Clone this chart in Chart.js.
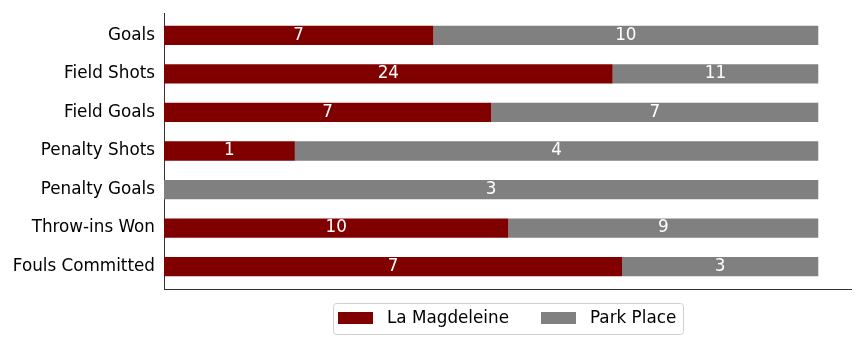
<!DOCTYPE html>
<html><head><meta charset="utf-8">
<script src="https://cdn.jsdelivr.net/npm/chart.js@4/dist/chart.umd.min.js"></script>
<style>html,body{margin:0;padding:0;background:#fff}#wrap{width:864px;height:346px}</style>
</head><body><div id="wrap"><canvas id="c" width="864" height="346"></canvas></div>
<script>
const categories = ["Goals","Field Shots","Field Goals","Penalty Shots","Penalty Goals","Throw-ins Won","Fouls Committed"];
const seriesNames = ["La Magdeleine","Park Place"];
const laMagdeleine = [7,24,7,1,0,10,7];
const parkPlace = [10,11,7,4,3,9,3];
const colors = ["#800000","#808080"];

const totals = categories.map((_, i) => laMagdeleine[i] + parkPlace[i]);
const pct = arr => arr.map((v, i) => ({ y: i, x: v / totals[i] * 100, raw: v }));

const FONT = "'DejaVu Sans', sans-serif";
const FS = 16.8;

const labelPlugin = {
  id: 'labels',
  afterDatasetsDraw(chart) {
    const ctx = chart.ctx;
    ctx.save();
    ctx.font = FS + "px " + FONT;
    ctx.fillStyle = "#ffffff";
    ctx.textAlign = "center";
    ctx.textBaseline = "middle";
    chart.data.datasets.forEach((ds, di) => {
      const meta = chart.getDatasetMeta(di);
      meta.data.forEach((bar, i) => {
        const raw = ds.data[i].raw;
        if (!raw) return;
        const cx = (bar.x + bar.base) / 2;
        ctx.fillText(String(raw), cx, bar.y);
      });
    });
    ctx.restore();
  }
};

const legendPlugin = {
  id: 'customLegend',
  afterDraw(chart) {
    const ctx = chart.ctx;
    ctx.save();
    const x0 = 333.5, y0 = 303.5, w = 350, h = 31, r = 3;
    ctx.strokeStyle = "#d0d0d0";
    ctx.lineWidth = 1;
    ctx.beginPath();
    ctx.moveTo(x0 + r, y0);
    ctx.lineTo(x0 + w - r, y0); ctx.arcTo(x0 + w, y0, x0 + w, y0 + r, r);
    ctx.lineTo(x0 + w, y0 + h - r); ctx.arcTo(x0 + w, y0 + h, x0 + w - r, y0 + h, r);
    ctx.lineTo(x0 + r, y0 + h); ctx.arcTo(x0, y0 + h, x0, y0 + h - r, r);
    ctx.lineTo(x0, y0 + r); ctx.arcTo(x0, y0, x0 + r, y0, r);
    ctx.closePath();
    ctx.stroke();
    ctx.font = FS + "px " + FONT;
    ctx.textBaseline = "middle";
    ctx.textAlign = "left";
    const starts = [338, 541];
    chart.data.datasets.forEach((ds, di) => {
      const bx = starts[di];
      ctx.fillStyle = ds.backgroundColor;
      ctx.fillRect(bx, 312, 35, 12);
      ctx.fillStyle = "#000";
      ctx.fillText(ds.label, bx + 49, 319);
    });
    ctx.restore();
  }
};

new Chart(document.getElementById('c'), {
  type: 'bar',
  data: {
    datasets: [
      { label: seriesNames[0], data: pct(laMagdeleine), backgroundColor: colors[0], borderWidth: 0, categoryPercentage: 1, barPercentage: 0.5 },
      { label: seriesNames[1], data: pct(parkPlace), backgroundColor: colors[1], borderWidth: 0, categoryPercentage: 1, barPercentage: 0.5 }
    ]
  },
  options: {
    indexAxis: 'y',
    responsive: false,
    animation: false,
    devicePixelRatio: 1,
    layout: { padding: { top: 13, right: 13, bottom: 57, left: 0 } },
    plugins: { legend: { display: false }, tooltip: { enabled: false } },
    scales: {
      x: {
        type: 'linear', stacked: true, min: 0, max: 105,
        ticks: { display: false },
        grid: { display: false, drawTicks: false },
        border: { display: true, color: '#333', width: 1 }
      },
      y: {
        type: 'linear', stacked: true, reverse: true, min: -0.58, max: 6.58, offset: false, grace: 0,
        afterBuildTicks: s => { s.ticks = categories.map((_, i) => ({ value: i })); },
        afterFit: s => { s.width = 164; s.paddingTop = 0; s.paddingBottom = 0; },
        ticks: {
          callback: v => categories[v] ?? '',
          color: '#000', font: { family: FONT, size: FS }, padding: 9, autoSkip: false
        },
        grid: { display: false, drawTicks: false },
        border: { display: true, color: '#333', width: 1 }
      }
    }
  },
  plugins: [labelPlugin, legendPlugin]
});
</script>
</body></html>
